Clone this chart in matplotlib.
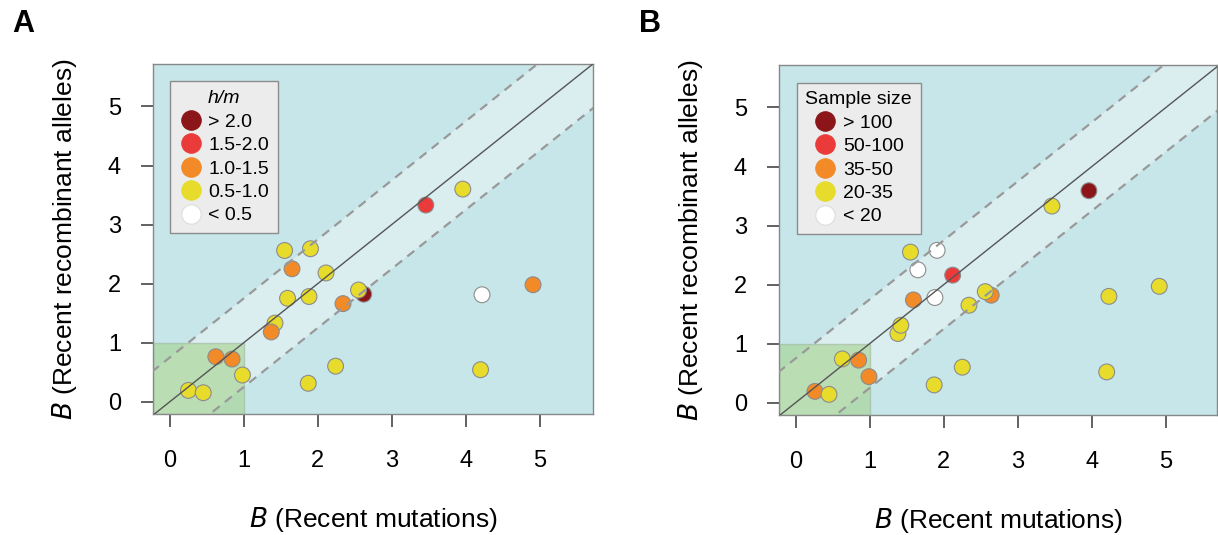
import numpy as np
import matplotlib
matplotlib.use('Agg')
from matplotlib import pyplot as plt
from matplotlib.lines import Line2D
from matplotlib.patches import Rectangle

plt.rcParams['font.family'] = ['Liberation Sans', 'DejaVu Sans']

# panel A: B (recent mutations) vs B (recent recombinant alleles), colour = h/m class
a_x = [3.96, 1.55, 1.90, 1.65, 2.11, 1.59, 1.88, 2.62, 2.55, 2.34, 1.42, 1.37, 4.22, 4.91,
       0.62, 0.84, 0.98, 0.25, 0.45, 1.87, 2.24, 4.20, 3.46]
a_y = [3.60, 2.56, 2.59, 2.25, 2.18, 1.75, 1.78, 1.82, 1.89, 1.66, 1.33, 1.18, 1.81, 1.98,
       0.76, 0.72, 0.45, 0.19, 0.15, 0.31, 0.60, 0.54, 3.33]
a_cls = [3, 3, 3, 2, 3, 3, 3, 0, 3, 2, 3, 2, 4, 2,
         2, 2, 3, 3, 3, 3, 3, 3, 1]
a_labels = ['> 2.0', '1.5-2.0', '1.0-1.5', '0.5-1.0', '< 0.5']

# panel B: same loci, colour = sample size class
b_x = [3.96, 3.46, 1.55, 1.91, 1.65, 2.12, 1.59, 1.88, 2.64, 2.56, 2.34, 1.38, 1.42, 4.23,
       4.91, 0.63, 0.85, 0.99, 0.26, 0.45, 1.87, 2.25, 4.20]
b_y = [3.59, 3.33, 2.55, 2.58, 2.25, 2.16, 1.74, 1.78, 1.82, 1.88, 1.65, 1.17, 1.31, 1.80,
       1.97, 0.74, 0.72, 0.44, 0.19, 0.14, 0.30, 0.60, 0.52]
b_cls = [0, 3, 3, 4, 4, 1, 2, 4, 2, 3, 3, 3, 3, 3,
         3, 3, 2, 2, 2, 3, 3, 3, 3]
b_labels = ['> 100', '50-100', '35-50', '20-35', '< 20']

colors = ['#8b1518', '#ea3b3a', '#f28a28', '#e7dc2c', '#ffffff']
band = 0.75


def panel(ax, xs, ys, cls, labels, title, title_italic, xlim, ylim):
    ax.set_facecolor('#c6e6ea')
    xx = np.array([xlim[0] - 1, xlim[1] + 1])
    ax.fill_between(xx, xx - band, xx + band, color='#daedef', zorder=1, lw=0)
    ax.add_patch(Rectangle((xlim[0], ylim[0]), 1 - xlim[0], 1 - ylim[0],
                           facecolor='#a3d184', alpha=0.55, edgecolor='#9ab39a',
                           lw=1, zorder=2))
    ax.scatter(xs, ys, s=130, c=[colors[c] for c in cls], edgecolors='#8c8c8c',
               linewidths=0.8, zorder=3)
    ax.plot(xx, xx, color='#555555', lw=1, zorder=4)
    ax.plot(xx, xx + band, color='#999999', lw=1.6, ls=(0, (4, 3)), zorder=4)
    ax.plot(xx, xx - band, color='#999999', lw=1.6, ls=(0, (4, 3)), zorder=4)
    ax.set_xlim(xlim)
    ax.set_ylim(ylim)
    ax.set_xticks(range(6))
    ax.set_yticks(range(6))
    ax.tick_params(length=9, width=1.3, color='#555555', labelsize=17, pad=17)
    ax.tick_params(axis='y', pad=14)
    for s in ax.spines.values():
        s.set_color('#888888')
        s.set_linewidth(1)
    ax.set_xlabel('$\\mathit{B}$ (Recent mutations)', fontsize=19, labelpad=24)
    ax.set_ylabel('$\\mathit{B}$ (Recent recombinant alleles)', fontsize=19, labelpad=21)
    handles = [Line2D([], [], ls='', marker='o', ms=14, mfc=c,
                      mec='#dddddd' if c == '#ffffff' else c, mew=0.8) for c in colors]
    leg = ax.legend(handles, labels, title=title, loc='upper left', fontsize=14,
                    title_fontsize=14, frameon=True, fancybox=False, framealpha=1,
                    borderaxespad=0.9, handletextpad=0.3, labelspacing=0.3,
                    borderpad=0.45, handlelength=1.2)
    leg.get_frame().set_facecolor('#ececec')
    leg.get_frame().set_edgecolor('#8c8c8c')
    if title_italic:
        leg.get_title().set_fontstyle('italic')
    leg.set_zorder(10)


fig = plt.figure(figsize=(12.18, 5.35), dpi=100)
axA = fig.add_axes([0.1256, 0.2262, 0.3612, 0.6542])
axB = fig.add_axes([0.6396, 0.2243, 0.3596, 0.6542])

panel(axA, a_x, a_y, a_cls, a_labels, 'h/m', True, (-0.23, 5.72), (-0.21, 5.72))
panel(axB, b_x, b_y, b_cls, b_labels, 'Sample size', False, (-0.225, 5.69), (-0.21, 5.72))

fig.text(0.010, 0.955, 'A', fontsize=22, fontweight='bold', va='center')
fig.text(0.525, 0.955, 'B', fontsize=22, fontweight='bold', va='center')

fig.savefig('out.png', dpi=100)
